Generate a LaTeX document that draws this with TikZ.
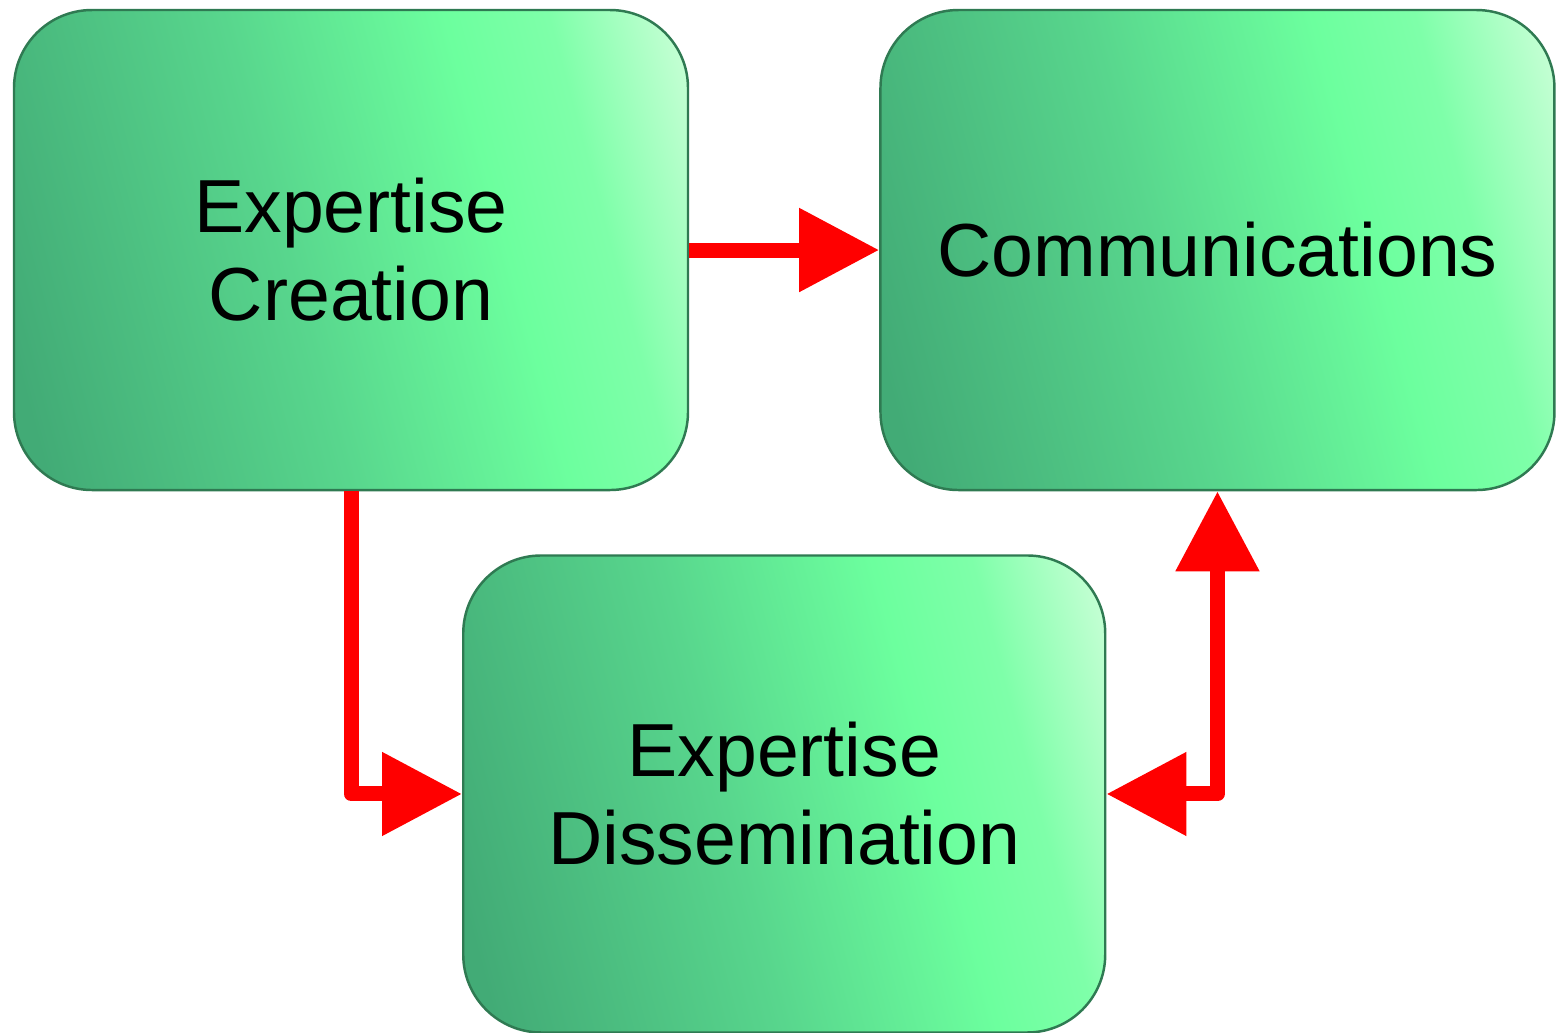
\documentclass[tikz,border=0pt]{standalone}
\usepackage{fontspec}
\setmainfont{Liberation Sans}
\usetikzlibrary{shapes,arrows,positioning,calc,arrows.meta}

\definecolor{gdark}{HTML}{42AB76}
\definecolor{gmid}{HTML}{58D68D}
\definecolor{gbright}{HTML}{6CFF9E}
\definecolor{glight}{HTML}{C8FFD6}
\definecolor{gedge}{HTML}{2F7A52}

\pgfdeclarehorizontalshading{greenbox}{100bp}{color(0bp)=(gdark); color(22bp)=(gdark); color(45bp)=(gmid); color(62bp)=(gbright); color(70bp)=(gbright!80!glight); color(80bp)=(glight); color(100bp)=(glight)}

\tikzset{
    block/.style={rectangle, draw=gedge, line width=0.7pt, rounded corners=0.78cm, shading=greenbox, shading angle=15, align=center, font=\fontsize{21.4}{25}\selectfont},
    link/.style={draw=red, line width=0.15cm, line join=round, -{Triangle[length=0.8cm, width=0.8cm]}},
    twolink/.style={draw=red, line width=0.15cm, line join=round, {Triangle[length=0.8cm, width=0.8cm]}-{Triangle[length=0.8cm, width=0.8cm]}}
}

\begin{document}
\begin{tikzpicture}
    \useasboundingbox (-3.51,-7.82) rectangle (12.08,2.50);
    \fill[white] (-3.51,-7.82) rectangle (12.08,2.50);

    % Blocks
    \node[block, minimum width=6.74cm, minimum height=4.8cm] (creation) at (0,0) {Expertise\\Creation};
    \node[block, minimum width=6.74cm, minimum height=4.8cm, right=1.9cm of creation] (comms) {Communications};
    \coordinate (mid) at ($(creation.south east)!0.5!(comms.south west)$);
    \node[block, minimum width=6.42cm, minimum height=4.77cm, below=0.63cm of mid] (dissem) {Expertise\\Dissemination};

    % Links
    \draw[link] (creation.east) -- (comms.west);
    \draw[link] (creation.south) |- (dissem.west);
    \draw[twolink] (dissem.east) -| (comms.south);
\end{tikzpicture}
\end{document}
